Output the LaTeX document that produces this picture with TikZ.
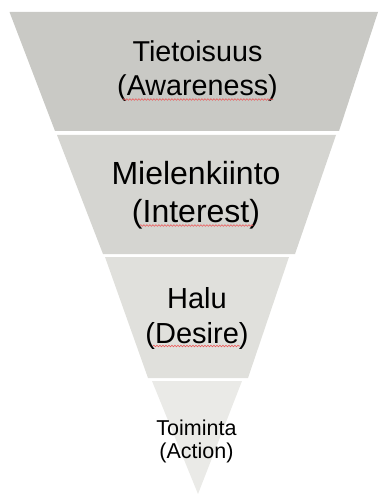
\documentclass[tikz,border=0pt]{standalone}
\usepackage{fontspec}
\setmainfont{Liberation Sans}
\usetikzlibrary{decorations.pathmorphing}
\definecolor{bandA}{RGB}{201,201,197}
\definecolor{bandB}{RGB}{213,213,209}
\definecolor{bandC}{RGB}{224,224,220}
\definecolor{bandD}{RGB}{234,234,231}
\definecolor{squigred}{RGB}{236,90,90}
\tikzset{
  band/.style={draw=none},
  lbl/.style={align=center, inner sep=0pt, text=black},
  squig/.style={draw=squigred, line width=0.6pt, decorate,
    decoration={snake, amplitude=0.8pt, segment length=3pt}}
}
\begin{document}
\begin{tikzpicture}[x=1pt, y=-1pt]
\useasboundingbox (0,0) rectangle (379,494);
% bands
\fill[band, bandA] (9.5,12) -- (378,12) -- (339,131) -- (55,131) -- cycle;
\fill[band, bandB] (57,135) -- (336,135) -- (295,254) -- (103,254) -- cycle;
\fill[band, bandC] (105,257) -- (289,257) -- (248,378) -- (148,378) -- cycle;
\fill[band, bandD] (152,381) -- (242,381) -- (198,494) -- cycle;
% labels
\node[lbl, font=\fontsize{28.7}{34}\selectfont] (t1) at (197.5,71)
  {Tietoisuus\\(Awareness)};
\node[lbl, font=\fontsize{32}{38}\selectfont] (t2) at (196,195.5)
  {Mielenkiinto\\(Interest)};
\node[lbl, font=\fontsize{29}{35}\selectfont] (t3) at (197,318)
  {Halu\\(Desire)};
\node[lbl, font=\fontsize{21.5}{23}\selectfont] (t4) at (196.5,441)
  {Toiminta\\(Action)};
% spell-check squiggles
\coordinate (s1a) at (123,99.5); \coordinate (s1b) at (273,99.5);
\coordinate (s2a) at (140,225.5); \coordinate (s2b) at (253,225.5);
\coordinate (s3a) at (153,346); \coordinate (s3b) at (240,346);
\draw[squig] (s1a) -- (s1b);
\draw[squig] (s2a) -- (s2b);
\draw[squig] (s3a) -- (s3b);
\end{tikzpicture}
\end{document}
